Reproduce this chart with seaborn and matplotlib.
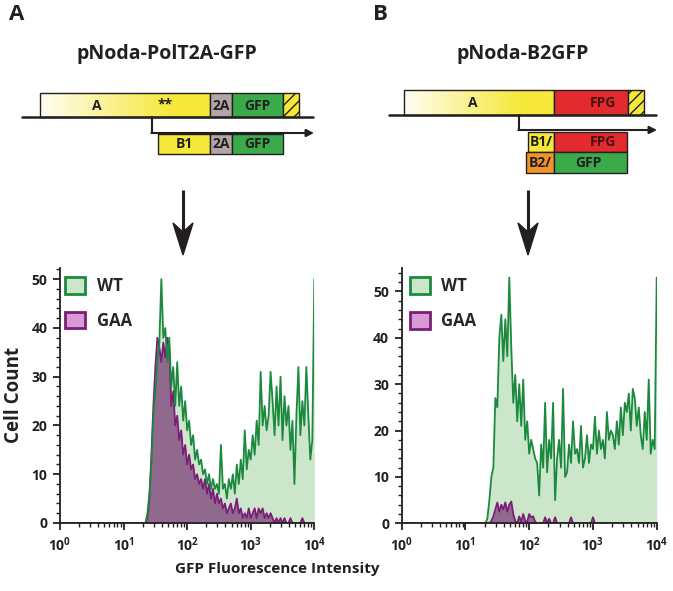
import numpy as np
import pandas as pd
import matplotlib
matplotlib.use('Agg')
import matplotlib.pyplot as plt
import seaborn as sns
from matplotlib.patches import Rectangle, Patch, Polygon
from matplotlib.colors import LinearSegmentedColormap
from matplotlib.ticker import MultipleLocator, NullFormatter

# flow histogram: 32 channels per decade, listed counts start at channel 43 (~22)
channels_per_decade = 32
first_channel = 43
last_channel = 128

# panel A (pNoda-PolT2A-GFP)
wt_a = [0, 2, 6, 12, 22, 27, 33, 37, 50, 38,
        40, 33, 38, 28, 32, 24, 33, 24, 28, 21,
        25, 19, 21, 16, 18, 13, 15, 12, 13, 10,
        11, 8, 10, 7, 9, 7, 8, 6, 16, 7,
        8, 5, 9, 7, 10, 6, 12, 8, 13, 9,
        19, 11, 15, 13, 18, 14, 21, 16, 31, 20,
        24, 19, 22, 31, 25, 18, 28, 20, 30, 17,
        26, 20, 24, 15, 21, 8, 22, 32, 18, 25,
        20, 32, 22, 13, 17, 50]
gaa_a = [0, 1, 5, 14, 24, 32, 38, 36, 33, 37,
         34, 38, 36, 24, 27, 20, 22, 17, 19, 14,
         16, 12, 14, 11, 12, 9, 10, 8, 9, 7,
         9, 6, 8, 5, 7, 4, 6, 4, 5, 3,
         4, 2, 3, 4, 2, 3, 5, 2, 3, 1,
         2, 1, 3, 1, 2, 3, 1, 3, 2, 3,
         1, 2, 1, 2, 1, 0, 1, 0, 1, 0,
         1, 0, 0, 1, 0, 0, 0, 0, 0, 1,
         0, 0, 0, 0, 0, 0]

# panel B (pNoda-B2GFP)
wt_b = [1, 5, 10, 12, 27, 25, 40, 45, 35, 44,
        36, 53, 38, 26, 32, 22, 30, 21, 31, 18,
        22, 15, 18, 16, 14, 13, 6, 17, 12, 26,
        11, 18, 14, 26, 5, 14, 18, 12, 29, 10,
        11, 17, 13, 22, 15, 16, 13, 21, 12, 14,
        19, 13, 17, 16, 23, 15, 20, 16, 18, 14,
        24, 18, 20, 19, 16, 22, 17, 25, 19, 26,
        24, 28, 20, 29, 27, 21, 25, 19, 16, 24,
        18, 31, 15, 18, 16, 53]
gaa_b = [0, 0, 0.5, 1.5, 3, 4.5, 2.5, 4, 3, 4.5,
         2.5, 4, 4.7, 2, 0.5, 0, 1.5, 0.3, 2, 0.5,
         0.3, 2, 1.3, 1.5, 0.3, 0, 0, 0, 0, 1.3,
         0, 1, 0, 0, 1.3, 0, 0, 0, 0, 0,
         0, 0, 1.3, 0, 0, 0, 0, 0, 0, 0,
         0, 0, 0, 1.3, 0, 0, 0, 0, 0, 0,
         0, 0, 0, 0, 0, 0, 0, 0, 0, 0,
         0, 0, 0, 0, 0, 0, 0, 0, 0, 0,
         0, 0, 0, 0, 0, 0]

series_names = ['WT', 'GAA']
tick_exponents = [0, 1, 2, 3, 4]
panel_titles = ['pNoda-PolT2A-GFP', 'pNoda-B2GFP']
panel_letters = ['A', 'B']

sns.set_style('ticks')
plt.rcParams['font.family'] = ['Open Sans', 'DejaVu Sans']
plt.rcParams['font.weight'] = 'bold'
plt.rcParams['mathtext.fontset'] = 'custom'
plt.rcParams['mathtext.rm'] = 'Open Sans:bold'
plt.rcParams['mathtext.bf'] = 'Open Sans:bold'
plt.rcParams['hatch.linewidth'] = 1.0

ink = '#231f20'
green_line = '#1c8a3e'
green_fill = '#cce6cc'
purple_line = '#7a1f78'
purple_fill = '#7d3f7b'
purple_legend = '#d89ad4'
yellow = '#f6e83a'
grey = '#b3a4a5'
gfp_green = '#3aaa4a'
red = '#e32b2f'
orange = '#f0932b'


def to_frame(counts):
    ch = np.arange(0, last_channel + 1)
    full = np.concatenate([np.zeros(first_channel), counts])
    return pd.DataFrame({'fluor': 10.0 ** (ch / channels_per_decade), 'count': full})


fig = plt.figure(figsize=(6.73, 5.91), dpi=100)

# ---- schematic layer in pixel coordinates ----
ov = fig.add_axes([0, 0, 1, 1], zorder=-1)
grad = LinearSegmentedColormap.from_list('grad', [(0, '#fffef4'), (0.78, yellow), (1, yellow)])


def box(x0, x1, y0, y1, color, text=None, tx=None, tcolor=ink, hatch=None):
    ov.add_patch(Rectangle((x0, y0), x1 - x0, y1 - y0, facecolor=color, edgecolor=ink,
                           lw=1.0, hatch=hatch, zorder=2))
    if text:
        ov.text(tx if tx else (x0 + x1) / 2, (y0 + y1) / 2 + 0.5, text, ha='center', va='center',
                fontsize=10, fontweight='bold', color=tcolor, zorder=3)


def gradient_box(x0, x1, y0, y1):
    ov.imshow(np.linspace(0, 1, 256)[None, :], cmap=grad, extent=(x0, x1, y1, y0),
              aspect='auto', zorder=1)
    ov.add_patch(Rectangle((x0, y0), x1 - x0, y1 - y0, facecolor='none', edgecolor=ink,
                           lw=1.0, zorder=2))


def down_arrow(x, y0, y1):
    ov.plot([x, x], [y0, y1 - 20], color=ink, lw=2.2, solid_capstyle='butt')
    ov.add_patch(Polygon([(x, y1), (x - 10, y1 - 32), (x, y1 - 23), (x + 10, y1 - 32)],
                         closed=True, color=ink))


# A construct
gradient_box(40, 210, 93, 117)
ov.text(97, 106, 'A', ha='center', va='center', fontsize=10, fontweight='bold', color=ink)
ov.text(165, 104, '**', ha='center', va='center', fontsize=10, fontweight='bold', color=ink)
box(210, 232, 93, 117, grey, '2A')
box(232, 283, 93, 117, gfp_green, 'GFP')
box(283, 299, 93, 117, yellow, hatch='///')
ov.plot([22, 313], [117, 117], color=ink, lw=1.8)
ov.plot([152, 152], [117, 133], color=ink, lw=1.5)
ov.annotate('', xy=(314, 133), xytext=(151.3, 133),
            arrowprops=dict(arrowstyle='-|>', lw=1.5, color=ink, mutation_scale=11,
                            shrinkA=0, shrinkB=0))
box(158, 210, 134, 154, yellow, 'B1')
box(210, 232, 134, 154, grey, '2A')
box(232, 283, 134, 154, gfp_green, 'GFP')

# B construct
gradient_box(404, 554, 90, 115)
ov.text(473, 103, 'A', ha='center', va='center', fontsize=10, fontweight='bold', color=ink)
box(554, 628, 90, 115, red, 'FPG', tx=603, tcolor='#4a1414')
box(628, 644, 90, 115, yellow, hatch='///')
ov.plot([389, 656], [115, 115], color=ink, lw=1.8)
ov.plot([519, 519], [115, 130], color=ink, lw=1.5)
ov.annotate('', xy=(657, 130), xytext=(518.3, 130),
            arrowprops=dict(arrowstyle='-|>', lw=1.5, color=ink, mutation_scale=11,
                            shrinkA=0, shrinkB=0))
box(528, 554, 132, 152, yellow, 'B1/')
box(554, 627, 132, 152, red, 'FPG', tx=603, tcolor='#4a1414')
box(526, 554, 152, 173, orange, 'B2/')
box(554, 627, 152, 173, gfp_green, 'GFP', tx=588)

down_arrow(183, 190, 255)
down_arrow(528, 190, 255)

ov.set_xlim(0, 673)
ov.set_ylim(591, 0)
ov.axis('off')

# titles and panel letters
fig.text(17 / 673, 1 - 15 / 591, panel_letters[0], ha='center', va='center', fontsize=16, fontweight='bold', color=ink)
fig.text(380 / 673, 1 - 15 / 591, panel_letters[1], ha='center', va='center', fontsize=16, fontweight='bold', color=ink)
fig.text(167 / 673, 1 - 54 / 591, panel_titles[0], ha='center', va='center', fontsize=14, fontweight='bold', color=ink)
fig.text(523 / 673, 1 - 54 / 591, panel_titles[1], ha='center', va='center', fontsize=14, fontweight='bold', color=ink)

# ---- histograms ----
ax_a = fig.add_axes([60 / 673, 1 - 523 / 591, 254.3 / 673, 255 / 591])
ax_b = fig.add_axes([401.7 / 673, 1 - 523.3 / 591, 255 / 673, 255 / 591])

for ax, wt, gaa, ytop, lx in [(ax_a, wt_a, gaa_a, 52.3, 5), (ax_b, wt_b, gaa_b, 55, 8)]:
    df_wt = to_frame(wt)
    df_gaa = to_frame(gaa)
    ax.fill_between(df_wt['fluor'], df_wt['count'], color=green_fill, lw=0)
    ax.fill_between(df_gaa['fluor'], df_gaa['count'], color=purple_fill, alpha=0.75, lw=0)
    sns.lineplot(data=df_gaa, x='fluor', y='count', ax=ax, color=purple_line, lw=1.3)
    sns.lineplot(data=df_wt, x='fluor', y='count', ax=ax, color=green_line, lw=1.3)

    ax.set_xscale('log')
    ax.set_xlim(1, 1e4)
    ax.set_ylim(0, ytop)
    ax.set_xlabel('')
    ax.set_ylabel('')
    ax.set_xticks([10.0 ** e for e in tick_exponents])
    ax.set_xticklabels([rf'$\mathbf{{10^{{{e}}}}}$' for e in tick_exponents])
    ax.xaxis.set_minor_formatter(NullFormatter())
    ax.yaxis.set_major_locator(MultipleLocator(10))
    ax.yaxis.set_minor_locator(MultipleLocator(2))
    ax.tick_params(which='major', direction='out', length=5, width=1.3, labelsize=10,
                   pad=4, color=ink, labelcolor=ink)
    ax.tick_params(which='minor', direction='out', length=3, width=1.0, color=ink)
    for lab in ax.get_yticklabels():
        lab.set_fontweight('bold')
    sns.despine(ax=ax)
    for s in ['left', 'bottom']:
        ax.spines[s].set_linewidth(1.3)
        ax.spines[s].set_color(ink)
    ax.set_facecolor('none')

    handles = [Patch(facecolor=green_fill, edgecolor=green_line, lw=2, label=series_names[0]),
               Patch(facecolor=purple_legend, edgecolor=purple_line, lw=2, label=series_names[1])]
    ax.legend(handles=handles, loc='upper left', bbox_to_anchor=(lx / 255, 1 - 9 / 255),
              frameon=False, prop=dict(weight='bold', size=12), handlelength=1.2,
              handleheight=1.15, handletextpad=0.7, labelspacing=1.0, borderaxespad=0,
              borderpad=0)

fig.text(14 / 673, 1 - 395 / 591, 'Cell Count', rotation=90, ha='center', va='center',
         fontsize=13.5, fontweight='bold', color=ink)
fig.text(277 / 673, 1 - 569 / 591, 'GFP Fluorescence Intensity', ha='center', va='center',
         fontsize=11, fontweight='bold', color=ink)

fig.savefig('out.png', dpi=100)
